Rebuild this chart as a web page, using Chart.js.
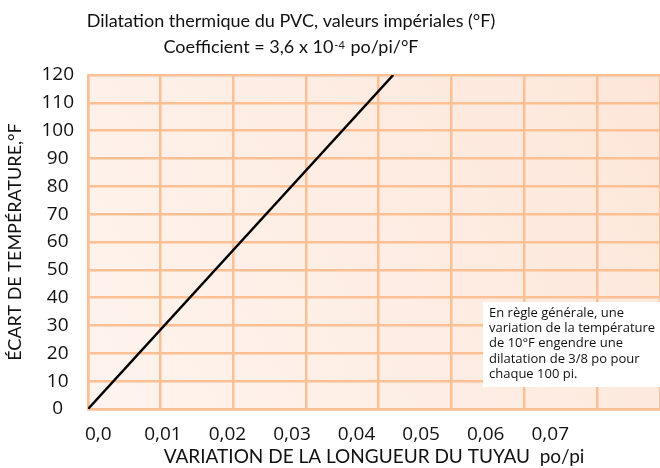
<!DOCTYPE html>
<html>
<head>
<meta charset="utf-8">
<script src="https://cdn.jsdelivr.net/npm/chart.js@4/dist/chart.umd.min.js"></script>
<style>
  html, body { margin: 0; padding: 0; background: #fff; }
  #wrap { width: 660px; height: 468px; }
</style>
</head>
<body>
<div id="wrap"><canvas id="c" width="660" height="468"></canvas></div>
<script>
// PVC expansion: temperature difference (°F) vs length change (in/ft)
const expansionPts = [
  { x: 0, y: 0 },
  { x: 0.042, y: 120 },
];
const xTickLabels = ['0,0', '0,01', '0,02', '0,03', '0,04', '0,05', '0,06', '0,07'];
const yTicks = [0, 10, 20, 30, 40, 50, 60, 70, 80, 90, 100, 110, 120];
const titleLine1 = 'Dilatation thermique du PVC, valeurs impériales (°F)';
const titleLine2 = ['Coefficient = 3,6 x 10', '-4', ' po/pi/°F'];
const noteLines = [
  'En règle générale, une',
  'variation de la température',
  'de 10°F engendre une',
  'dilatation de 3/8 po pour',
  'chaque 100 pi.',
];

const FONT = "'Open Sans', sans-serif";
const HEAD_FONT = "Lato, sans-serif";
const GRID = '#fdbf94';

const chartBg = {
  id: 'chartBg',
  beforeDraw(chart) {
    const { ctx, chartArea: a } = chart;
    const g = ctx.createLinearGradient(a.left, a.bottom, a.right, a.top);
    g.addColorStop(0, '#fef4ee');
    g.addColorStop(1, '#fde6d9');
    ctx.save();
    ctx.fillStyle = g;
    ctx.fillRect(a.left, a.top, a.right - a.left, a.bottom - a.top);
    ctx.restore();
  },
};

const headerAndNote = {
  id: 'headerAndNote',
  afterDraw(chart) {
    const { ctx, chartArea: a } = chart;
    ctx.save();
    ctx.fillStyle = '#111';
    ctx.textBaseline = 'middle';
    // title, two lines, second one with a superscript exponent
    const cx = 291;
    const big = '18px ' + HEAD_FONT, small = '11px ' + HEAD_FONT;
    ctx.font = big;
    ctx.textAlign = 'center';
    ctx.fillText(titleLine1, cx, 21);
    const w0 = ctx.measureText(titleLine2[0]).width;
    ctx.font = small; const w1 = ctx.measureText(titleLine2[1]).width;
    ctx.font = big; const w2 = ctx.measureText(titleLine2[2]).width;
    let x = cx - (w0 + w1 + 2 + w2) / 2;
    ctx.textAlign = 'left';
    ctx.font = big; ctx.fillText(titleLine2[0], x, 47); x += w0 + 1;
    ctx.font = small; ctx.fillText(titleLine2[1], x, 45); x += w1 + 1;
    ctx.font = big; ctx.fillText(titleLine2[2], x, 47);

    // rule-of-thumb box
    const bx = 483, by = 302;
    ctx.fillStyle = '#ffffff';
    ctx.fillRect(bx, by, a.right - bx, 85);
    ctx.fillStyle = '#111';
    ctx.font = '13px ' + FONT;
    noteLines.forEach((t, i) => ctx.fillText(t, bx + 6, by + 11 + i * 15.3));
    ctx.restore();
  },
};

new Chart(document.getElementById('c'), {
  type: 'scatter',
  data: {
    datasets: [{
      data: expansionPts,
      showLine: true,
      borderColor: '#000',
      borderWidth: 2.5,
      pointRadius: 0,
      xAxisID: 'x',
      yAxisID: 'y',
    }],
  },
  options: {
    responsive: false,
    animation: false,
    layout: { padding: { top: 75, right: 0, left: 0, bottom: 0 } },
    plugins: { legend: { display: false }, tooltip: { enabled: false }, title: { display: false } },
    scales: {
      x: {
        type: 'linear', position: 'bottom', min: 0, max: 0.0787,
        ticks: { display: false, stepSize: 0.01 },
        grid: { color: GRID, lineWidth: 2.5, drawTicks: false },
        border: { color: GRID, width: 2.5 },
        afterFit(s) { s.height = 0; },
      },
      // label axis: same units, slightly tighter spacing than the grid
      x2: {
        type: 'linear', position: 'bottom', min: -0.0016, max: 0.0870,
        grid: { display: false },
        border: { display: false },
        afterBuildTicks(s) { s.ticks = xTickLabels.map((_, i) => ({ value: i / 100 })); },
        ticks: {
          color: '#111', padding: 6, maxRotation: 0, autoSkip: false,
          font: { family: FONT, size: 19 },
          callback(v, i) { return xTickLabels[i]; },
        },
        title: {
          display: true, text: 'VARIATION DE LA LONGUEUR DU TUYAU  po/pi', color: '#111',
          font: { family: HEAD_FONT, size: 19 }, padding: { top: 0, bottom: 0 },
        },
        afterFit(s) { s.height = 59; },
      },
      y: {
        min: 0, max: 120,
        afterBuildTicks(s) { s.ticks = yTicks.map(v => ({ value: v })); },
        ticks: { color: '#111', padding: 14, crossAlign: 'center', font: { family: FONT, size: 19 } },
        grid: { color: GRID, lineWidth: 2.5, drawTicks: false },
        border: { color: GRID, width: 2.5 },
        title: {
          display: true, text: 'ÉCART DE TEMPÉRATURE,°F', color: '#111',
          font: { family: HEAD_FONT, size: 18 }, padding: { top: 4, bottom: 0 },
        },
        afterFit(s) { s.width = 88; },
      },
    },
  },
  plugins: [chartBg, headerAndNote],
});
</script>
</body>
</html>
